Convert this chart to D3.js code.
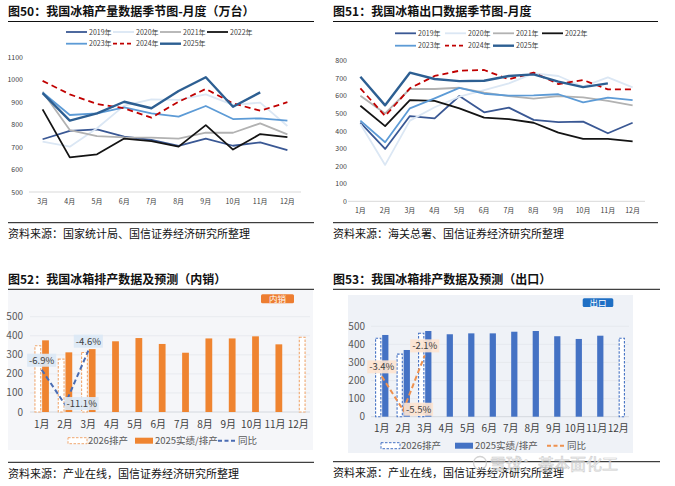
<!DOCTYPE html>
<html>
<head>
<meta charset="utf-8">
<script src="https://cdn.jsdelivr.net/npm/d3@7"></script>
<style>
  body { margin: 0; background: #fff; }
  text { font-family: "Noto Sans CJK SC", "Noto Sans", sans-serif; }
</style>
</head>
<body>
<script>
// ---------------------------//
//          DATA              //
// ---------------------------//

// 图50 production, 3月..12月
var months1 = ["3月", "4月", "5月", "6月", "7月", "8月", "9月", "10月", "11月", "12月"];
var prod2019 = [735, 772, 779, 747, 732, 705, 738, 706, 721, 687];
var prod2020 = [724, 702, 784, 885, 913, 910, 935, 888, 898, 794];
var prod2021 = [947, 776, 749, 743, 742, 738, 764, 764, 806, 757];
var prod2022 = [868, 654, 668, 738, 727, 702, 798, 689, 758, 744];
var prod2023 = [943, 843, 850, 877, 850, 836, 883, 825, 828, 818];
var prod2024 = [995, 935, 892, 873, 831, 902, 959, 895, 862, 900];
var prod2025 = [940, 818, 850, 902, 873, 950, 1011, 880, 944, null];
var prodTicks = [500, 600, 700, 800, 900, 1000, 1100];

// 图51 exports, 1月..12月
var months = ["1月", "2月", "3月", "4月", "5月", "6月", "7月", "8月", "9月", "10月", "11月", "12月"];
var exp2019 = [447, 298, 485, 472, 599, 506, 533, 463, 451, 453, 387, 447];
var exp2020 = [440, 207, 459, 535, 595, 633, 671, 728, 713, 652, 705, 648];
var exp2021 = [601, 500, 639, 639, 646, 618, 599, 584, 599, 591, 571, 546];
var exp2022 = [544, 428, 576, 571, 529, 476, 468, 447, 391, 355, 355, 341];
var exp2023 = [459, 336, 529, 586, 645, 612, 601, 603, 609, 563, 590, 576];
var exp2024 = [643, 485, 643, 713, 743, 747, 694, 732, 667, 690, 637, 637];
var exp2025 = [709, 546, 732, 696, 684, 686, 713, 722, 681, 650, 671, null];
var expTicks = [0, 100, 200, 300, 400, 500, 600, 700, 800];

var yearNames = ["2019年", "2020年", "2021年", "2022年", "2023年", "2024年", "2025年"];

// 图52 domestic schedule
var domPlan2026 = [350, 280, 315, null, null, null, null, null, null, null, null, null];
var dom2025 = [376, 313, 330, 371, 388, 357, 311, 386, 386, 397, 355, null];
var dom2025Plan = [null, null, null, null, null, null, null, null, null, null, null, 395];
var domYoy = [-6.9, -11.1, -4.6];

// 图53 export schedule
var outPlan2026 = [437, 349, 464, null, null, null, null, null, null, null, null, null];
var out2025 = [452, 369, 474, 456, 461, 461, 470, 474, 445, 430, 448, null];
var out2025Plan = [null, null, null, null, null, null, null, null, null, null, null, 437];
var outYoy = [-3.4, -5.5, -2.1];

var barTicks = [0, 100, 200, 300, 400, 500];
var barLegend = ["2026排产", "2025实绩/排产", "同比"];

// ---------------------------//
//          STYLE             //
// ---------------------------//
var yearStyle = [
  { color: "#3a5894", width: 1.8, dash: null },
  { color: "#dbe7f4", width: 1.8, dash: null },
  { color: "#b2b2b2", width: 1.8, dash: null },
  { color: "#141414", width: 1.8, dash: null },
  { color: "#5d9bd6", width: 1.8, dash: null },
  { color: "#c00000", width: 1.8, dash: "6,4" },
  { color: "#2d5f92", width: 2.4, dash: null }
];

const svg = d3.select("body").append("svg")
  .attr("width", 675).attr("height", 486);

svg.append("rect").attr("width", 675).attr("height", 486).attr("fill", "#fff");

// title, rules and source line for each panel
function drawFrame(x0, x1, titleY, topRule, bottomRule, title, source) {
  svg.append("text").attr("x", x0).attr("y", titleY)
    .attr("font-size", 12).attr("font-weight", "bold").attr("fill", "#111")
    .text(title);
  svg.append("line").attr("x1", x0).attr("x2", x1).attr("y1", topRule).attr("y2", topRule)
    .attr("stroke", "#111").attr("stroke-width", 1);
  svg.append("line").attr("x1", x0).attr("x2", x1).attr("y1", bottomRule).attr("y2", bottomRule)
    .attr("stroke", "#111").attr("stroke-width", 1);
  svg.append("text").attr("x", x0).attr("y", bottomRule + 15.5)
    .attr("font-size", 11).attr("fill", "#111")
    .text(source);
}

// ---------------------------//
//     SEASONAL LINE CHART    //
// ---------------------------//
function drawSeason(cfg) {
  var x = d3.scaleBand().domain(cfg.cats).range(cfg.xr);
  var y = d3.scaleLinear().domain(d3.extent(cfg.ticks)).range(cfg.yr);
  var g = svg.append("g");

  g.append("line").attr("x1", cfg.xr[0]).attr("x2", cfg.xr[1])
    .attr("y1", cfg.yr[0]).attr("y2", cfg.yr[0])
    .attr("stroke", "#d9d9d9").attr("stroke-width", 1);

  g.selectAll(".yl").data(cfg.ticks).enter().append("text")
    .attr("x", cfg.yLabelX).attr("y", d => y(d) + 2.5)
    .attr("text-anchor", "end").attr("font-size", 7).attr("fill", "#404040")
    .text(d => d);

  g.selectAll(".xl").data(cfg.cats).enter().append("text")
    .attr("x", d => x(d) + x.bandwidth() / 2).attr("y", cfg.yr[0] + 12)
    .attr("text-anchor", "middle").attr("font-size", 7).attr("fill", "#404040")
    .text(d => d);

  var line = d3.line()
    .defined(d => d != null)
    .x((d, i) => x(cfg.cats[i]) + x.bandwidth() / 2)
    .y(d => y(d));

  cfg.series.forEach(function(s, k) {
    var st = yearStyle[k];
    g.append("path").datum(s).attr("d", line)
      .attr("fill", "none").attr("stroke", st.color)
      .attr("stroke-width", st.width)
      .attr("stroke-dasharray", st.dash)
      .attr("stroke-linejoin", "round");
  });

  // legend: 4 items then 3 items
  yearNames.forEach(function(name, k) {
    var st = yearStyle[k];
    var lx = k < 4 ? cfg.legX[k] : cfg.legX[k - 4];
    var ly = k < 4 ? cfg.legY[0] : cfg.legY[1];
    g.append("line").attr("x1", lx).attr("x2", lx + 21).attr("y1", ly).attr("y2", ly)
      .attr("stroke", st.color).attr("stroke-width", st.width)
      .attr("stroke-dasharray", st.dash ? "4,3" : null);
    g.append("text").attr("x", lx + 23).attr("y", ly + 2.5)
      .attr("font-size", 7).attr("fill", "#404040").text(name);
  });
}

drawFrame(8, 314, 15.5, 21.5, 222.7, "图50：我国冰箱产量数据季节图-月度（万台）", "资料来源：国家统计局、国信证券经济研究所整理");
drawFrame(333, 658, 15.5, 21.5, 222.7, "图51：我国冰箱出口数据季节图-月度", "资料来源：海关总署、国信证券经济研究所整理");

drawSeason({
  cats: months1, ticks: prodTicks,
  xr: [29, 301], yr: [192, 57.3], yLabelX: 23,
  series: [prod2019, prod2020, prod2021, prod2022, prod2023, prod2024, prod2025],
  legX: [66, 113, 160, 207], legY: [32, 43.7]
});

drawSeason({
  cats: months, ticks: expTicks,
  xr: [348, 645], yr: [201.3, 60.7], yLabelX: 347,
  series: [exp2019, exp2020, exp2021, exp2022, exp2023, exp2024, exp2025],
  legX: [395, 445, 493, 542], legY: [33.3, 45.7]
});

// ---------------------------//
//     SCHEDULE BAR CHART     //
// ---------------------------//
function drawSchedule(cfg) {
  var g = svg.append("g");
  g.append("rect").attr("x", cfg.panel[0]).attr("y", cfg.panel[1])
    .attr("width", cfg.panel[2] - cfg.panel[0]).attr("height", cfg.panel[3] - cfg.panel[1])
    .attr("fill", cfg.panelFill);

  // badge
  g.append("rect").attr("x", cfg.badge[0]).attr("y", cfg.badge[1])
    .attr("width", cfg.badge[2]).attr("height", cfg.badge[3]).attr("rx", 1.5)
    .attr("fill", cfg.badgeFill);
  g.append("text").attr("x", cfg.badge[0] + cfg.badge[2] / 2).attr("y", cfg.badge[1] + cfg.badge[3] - 1.3)
    .attr("text-anchor", "middle").attr("font-size", 8.5).attr("fill", "#fff")
    .text(cfg.badgeText);

  var x = d3.scaleBand().domain(months).range(cfg.xr).paddingInner(0.38).paddingOuter(0.19);
  var x1 = d3.scaleBand().domain(["plan", "act"]).range([0, x.bandwidth()]).paddingInner(0.12);
  var y = d3.scaleLinear().domain([0, 500]).range(cfg.yr);
  var yy = d3.scaleLinear().domain(cfg.yoyDomain).range(cfg.yr);

  g.selectAll(".grid").data(barTicks.slice(1)).enter().append("line")
    .attr("x1", cfg.xr[0]).attr("x2", cfg.xr[1])
    .attr("y1", d => y(d)).attr("y2", d => y(d))
    .attr("stroke", "#e4e7ec").attr("stroke-width", 0.8);
  g.append("line").attr("x1", cfg.xr[0]).attr("x2", cfg.xr[1])
    .attr("y1", y(0)).attr("y2", y(0))
    .attr("stroke", "#d4d8de").attr("stroke-width", 1);

  g.selectAll(".yl").data(barTicks).enter().append("text")
    .attr("x", cfg.yLabelX).attr("y", d => y(d) + 3.5)
    .attr("text-anchor", "end").attr("font-size", 10).attr("fill", "#595959")
    .text(d => d);
  g.selectAll(".xl").data(months).enter().append("text")
    .attr("x", d => x(d) + x.bandwidth() / 2).attr("y", y(0) + 15.5)
    .attr("text-anchor", "middle").attr("font-size", 10).attr("fill", "#404040")
    .text(d => d);

  function bars(vals, slot, dashed) {
    var data = vals.map((v, i) => ({ m: months[i], v: v })).filter(d => d.v != null);
    g.selectAll(null).data(data).enter().append("rect")
      .attr("x", d => x(d.m) + x1(slot) + (dashed ? 0.5 : 0))
      .attr("y", d => y(d.v) + (dashed ? 0.5 : 0))
      .attr("width", x1.bandwidth() - (dashed ? 1 : 0))
      .attr("height", d => y(0) - y(d.v) - (dashed ? 0.5 : 0))
      .attr("fill", dashed ? "#fff" : cfg.barColor)
      .attr("stroke", dashed ? cfg.dashColor : "none")
      .attr("stroke-width", dashed ? 1.1 : 0)
      .attr("stroke-dasharray", dashed ? "2.5,1.5" : null);
  }
  bars(cfg.plan, "plan", true);
  bars(cfg.actual, "act", false);
  bars(cfg.actualPlan, "act", true);

  // yoy line
  var pts = cfg.yoy.map((v, i) => ({ x: x(months[i]) + x.bandwidth() / 2, y: yy(v), v: v }));
  g.append("path").datum(pts)
    .attr("d", d3.line().x(d => d.x).y(d => d.y))
    .attr("fill", "none").attr("stroke", cfg.yoyColor)
    .attr("stroke-width", 2).attr("stroke-dasharray", "5,3");

  pts.forEach(function(p, i) {
    var low = i > 0 && i < pts.length - 1 && p.v < pts[i - 1].v && p.v < pts[i + 1].v;
    var cx = low ? p.x + x.bandwidth() * 1.15 : p.x;
    var cy = low ? p.y - 1 : p.y - 9.5;
    var label = p.v.toFixed(1) + "%";
    var w = label.length * 5 + 4;
    g.append("rect").attr("x", cx - w / 2).attr("y", cy - 6.5)
      .attr("width", w).attr("height", 13)
      .attr("fill", cfg.labelFill).attr("opacity", 0.92);
    g.append("text").attr("x", cx).attr("y", cy + 3.5)
      .attr("text-anchor", "middle").attr("font-size", 9.5).attr("fill", "#404040")
      .text(label);
  });

  // legend
  var lx = cfg.legX, ly = cfg.legY;
  g.append("rect").attr("x", lx[0]).attr("y", ly - 3).attr("width", 19).attr("height", 6)
    .attr("fill", "#fff").attr("stroke", cfg.dashColor).attr("stroke-width", 1)
    .attr("stroke-dasharray", "2.5,1.5");
  g.append("rect").attr("x", lx[1]).attr("y", ly - 3).attr("width", 18).attr("height", 6)
    .attr("fill", cfg.barColor);
  g.append("line").attr("x1", lx[2]).attr("x2", lx[2] + 18).attr("y1", ly).attr("y2", ly)
    .attr("stroke", cfg.yoyColor).attr("stroke-width", 2).attr("stroke-dasharray", "4,2.5");
  var tx = [lx[0] + 20, lx[1] + 20, lx[2] + 20];
  barLegend.forEach(function(t, i) {
    g.append("text").attr("x", tx[i]).attr("y", ly + 3.5)
      .attr("font-size", 9.5).attr("fill", "#595959").text(t);
  });
}

drawFrame(8, 314, 284, 289.3, 462.3, "图52：我国冰箱排产数据及预测（内销）", "资料来源：产业在线，国信证券经济研究所整理");
drawFrame(333, 660, 284, 289.3, 461.7, "图53：我国冰箱排产数据及预测（出口）", "资料来源：产业在线，国信证券经济研究所整理");

drawSchedule({
  panel: [8, 290, 313, 450], panelFill: "#f5f6f9",
  badge: [261, 294.3, 33, 9], badgeFill: "#ed7d31", badgeText: "内销",
  xr: [30, 310], yr: [412, 316.7], yLabelX: 23,
  plan: domPlan2026, actual: dom2025, actualPlan: dom2025Plan,
  yoy: domYoy, yoyDomain: [-12, -0.5],
  barColor: "#ef8430", dashColor: "#f0a870", yoyColor: "#4a6cb3", labelFill: "#dbe8f5",
  legX: [68, 135, 218], legY: 440.7
});

drawSchedule({
  panel: [348, 295, 633, 453], panelFill: "#eff2f7",
  badge: [582.7, 298.3, 30.6, 8.6], badgeFill: "#1f6fc4", badgeText: "出口",
  xr: [371, 629], yr: [416.7, 326.3], yLabelX: 365,
  plan: outPlan2026, actual: out2025, actualPlan: out2025Plan,
  yoy: outYoy, yoyDomain: [-5.9, -0.3],
  barColor: "#4472c4", dashColor: "#4472c4", yoyColor: "#ee914f", labelFill: "#fde4d0",
  legX: [381, 455, 547], legY: 445.7
});

// xueqiu watermark
var wm = svg.append("g").attr("opacity", 0.75);
wm.append("circle").attr("cx", 480).attr("cy", 463).attr("r", 6.5)
  .attr("fill", "none").attr("stroke", "#c4c4c4").attr("stroke-width", 1.3);
wm.append("text").attr("x", 490).attr("y", 469.5)
  .attr("font-size", 16).attr("fill", "#fff").attr("stroke", "#bdbdbd").attr("stroke-width", 0.7)
  .text("雪球：基本面化工");
</script>
</body>
</html>
